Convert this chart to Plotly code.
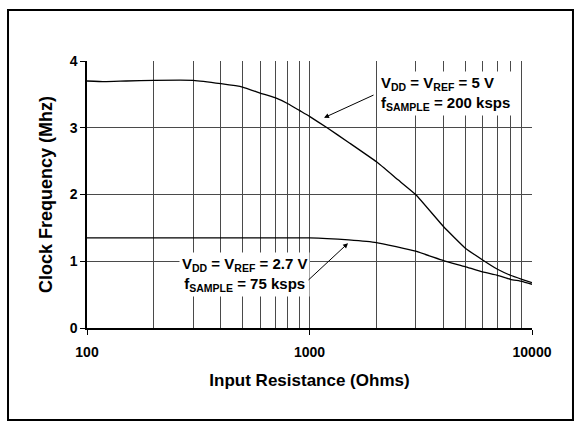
import plotly.graph_objects as go
import math

# Clock frequency vs. input resistance, two supply/sample-rate settings
r_5v = [100, 120, 150, 200, 300, 400, 500, 600, 700, 800, 900, 1000, 1200,
        1500, 2000, 2500, 3000, 4000, 5000, 6000, 7000, 8000, 9000, 10000]
f_5v = [3.70, 3.69, 3.70, 3.71, 3.71, 3.66, 3.61, 3.52, 3.45, 3.36, 3.26, 3.17,
        3.00, 2.78, 2.49, 2.22, 2.00, 1.52, 1.20, 1.02, 0.88, 0.79, 0.73, 0.68]

r_27v = [100, 200, 500, 1000, 1200, 1500, 2000, 3000, 4000, 5000, 6000, 7000,
         8000, 9000, 10000]
f_27v = [1.35, 1.35, 1.35, 1.35, 1.34, 1.32, 1.28, 1.15, 1.01, 0.92, 0.84, 0.79,
         0.73, 0.70, 0.655]

x_ticks = [100, 1000, 10000]
x_tick_labels = ["100", "1000", "10000"]
y_ticks = [0, 1, 2, 3, 4]

label_5v = "V<sub>DD</sub> = V<sub>REF</sub> = 5 V<br>f<sub>SAMPLE</sub> = 200 ksps"
label_27v = "V<sub>DD</sub> = V<sub>REF</sub> = 2.7 V<br>f<sub>SAMPLE</sub> = 75 ksps"

FONT = "Liberation Sans, Arial, sans-serif"
GRID = "#4a4a4a"

fig = go.Figure()
for xs, ys in [(r_5v, f_5v), (r_27v, f_27v)]:
    fig.add_trace(go.Scatter(x=xs, y=ys, mode="lines",
                             line=dict(color="black", width=1.3, shape="spline", smoothing=0.35),
                             showlegend=False, hoverinfo="x+y"))

L = math.log10
# text labels with white boxes over the grid
fig.add_annotation(x=L(2030), y=3.51, xref="x", yref="y", text=label_5v,
                   showarrow=False, xanchor="left", yanchor="middle", align="left",
                   bgcolor="white", borderpad=2,
                   font=dict(family=FONT, size=15, color="black", weight="bold"))
fig.add_annotation(x=L(510), y=0.80, xref="x", yref="y", text=label_27v,
                   showarrow=False, xanchor="center", yanchor="middle", align="center",
                   bgcolor="white", borderpad=2,
                   font=dict(family=FONT, size=15, color="black", weight="bold"))
# arrows pointing at each curve
fig.add_annotation(x=L(1162), y=3.15, ax=L(1970), ay=3.50, xref="x", yref="y",
                   axref="x", ayref="y", text="", showarrow=True,
                   arrowhead=2, arrowsize=1, arrowwidth=1, arrowcolor="black")
fig.add_annotation(x=L(1490), y=1.27, ax=L(975), ay=0.70, xref="x", yref="y",
                   axref="x", ayref="y", text="", showarrow=True,
                   arrowhead=2, arrowsize=1, arrowwidth=1, arrowcolor="black")

# frame around the whole figure
fig.add_shape(type="rect", xref="paper", yref="paper",
              x0=-0.1775, x1=1.0921, y0=-0.3446, y1=1.191,
              line=dict(color="black", width=2), fillcolor="rgba(0,0,0,0)")

fig.update_xaxes(type="log", range=[2, 4],
                 tickvals=x_ticks, ticktext=x_tick_labels,
                 ticks="outside", ticklen=5, tickcolor="black", tickwidth=1,
                 ticklabelstandoff=5,
                 showline=True, linecolor="black", linewidth=1.5,
                 showgrid=True, gridcolor=GRID, gridwidth=1,
                 minor=dict(dtick="D1", showgrid=True, gridcolor=GRID, gridwidth=1, ticks=""),
                 tickfont=dict(family=FONT, size=14, color="black", weight="bold"),
                 title=dict(text="Input Resistance (Ohms)", standoff=16,
                            font=dict(family=FONT, size=17, color="black", weight="bold")),
                 zeroline=False)
fig.update_yaxes(range=[0, 4], tickvals=y_ticks,
                 ticks="outside", ticklen=5, tickcolor="black", tickwidth=1,
                 showline=True, linecolor="black", linewidth=1.5,
                 showgrid=False,
                 minor=dict(tickvals=[1, 2, 3], showgrid=True, gridcolor=GRID, gridwidth=1, ticks=""),
                 tickfont=dict(family=FONT, size=14, color="black", weight="bold"),
                 title=dict(text="Clock Frequency (Mhz)", standoff=12,
                            font=dict(family=FONT, size=18, color="black", weight="bold")),
                 zeroline=False)

fig.update_layout(width=578, height=424,
                  margin=dict(l=87, r=46, t=61, b=96),
                  paper_bgcolor="white", plot_bgcolor="white")

fig.write_html("out.html")
